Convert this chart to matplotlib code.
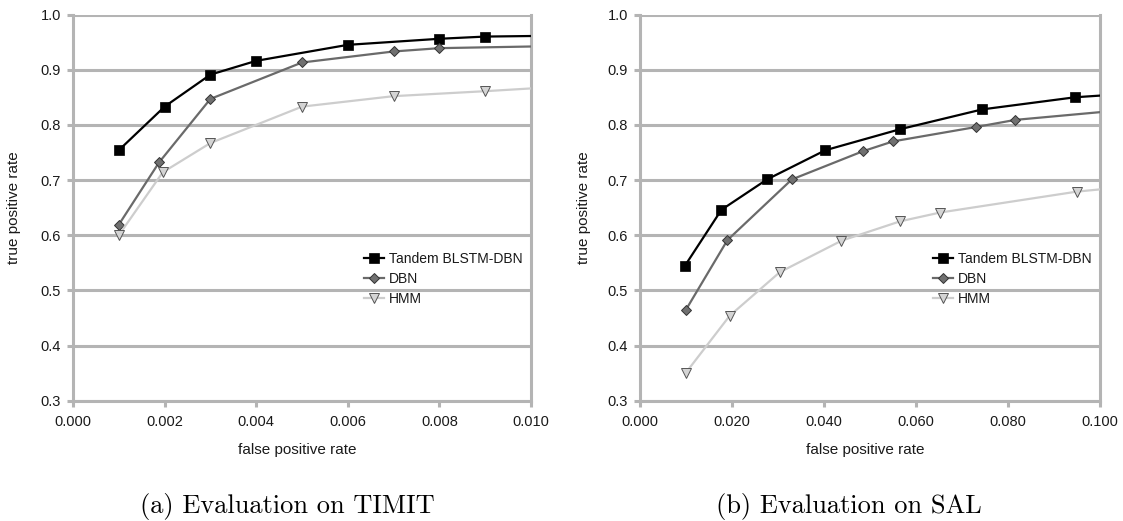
import matplotlib
matplotlib.use("Agg")
import matplotlib.pyplot as plt

# ---------------- data ----------------
series_names = ["Tandem BLSTM-DBN", "DBN", "HMM"]

# (a) TIMIT  (last point of each list = where the curve meets the right edge)
timit_tandem_x = [0.001, 0.002, 0.003, 0.004, 0.006, 0.008, 0.009, 0.010]
timit_tandem_y = [0.754, 0.833, 0.891, 0.916, 0.945, 0.956, 0.960, 0.961]
timit_dbn_x = [0.001, 0.00188, 0.003, 0.005, 0.007, 0.008, 0.010]
timit_dbn_y = [0.619, 0.732, 0.847, 0.913, 0.933, 0.939, 0.942]
timit_hmm_x = [0.001, 0.00196, 0.003, 0.005, 0.007, 0.009, 0.010]
timit_hmm_y = [0.600, 0.714, 0.767, 0.833, 0.852, 0.861, 0.866]

# (b) SAL
sal_tandem_x = [0.0098, 0.0177, 0.0276, 0.0403, 0.0565, 0.0744, 0.0946, 0.100]
sal_tandem_y = [0.545, 0.646, 0.701, 0.754, 0.792, 0.828, 0.850, 0.853]
sal_dbn_x = [0.0100, 0.0190, 0.0330, 0.0484, 0.0550, 0.0730, 0.0816, 0.100]
sal_dbn_y = [0.465, 0.591, 0.701, 0.752, 0.770, 0.796, 0.809, 0.823]
sal_hmm_x = [0.0100, 0.0195, 0.0304, 0.0438, 0.0565, 0.0652, 0.0950, 0.100]
sal_hmm_y = [0.351, 0.454, 0.533, 0.590, 0.625, 0.641, 0.679, 0.683]

timit_xticks = [0.000, 0.002, 0.004, 0.006, 0.008, 0.010]
sal_xticks = [0.000, 0.020, 0.040, 0.060, 0.080, 0.100]
yticks = [0.3, 0.4, 0.5, 0.6, 0.7, 0.8, 0.9, 1.0]

captions = ["(a) Evaluation on TIMIT", "(b) Evaluation on SAL"]
xlabel = "false positive rate"
ylabel = "true positive rate"

# ---------------- style ----------------
plt.rcParams["font.family"] = ["Liberation Sans", "DejaVu Sans"]
GRID = "#b4b4b4"
TXT = "#1a1a1a"
styles = [
    dict(color="#000000", marker="s", markersize=7.0, markerfacecolor="#000000",
         markeredgecolor="#000000", markeredgewidth=0.5, linewidth=1.6),
    dict(color="#6a6a6a", marker="D", markersize=5.0, markerfacecolor="#707070",
         markeredgecolor="#333333", markeredgewidth=0.7, linewidth=1.6),
    dict(color="#cdcdcd", marker="v", markersize=6.8, markerfacecolor="#d4d4d4",
         markeredgecolor="#555555", markeredgewidth=0.7, linewidth=1.6),
]

fig = plt.figure(figsize=(11.23, 5.21), dpi=100)
W, H = 1123, 521
ax1 = fig.add_axes([73 / W, 1 - 400.7 / H, (531 - 73) / W, (400.7 - 14.5) / H])
ax2 = fig.add_axes([640 / W, 1 - 400.7 / H, (1100 - 640) / W, (400.7 - 14.5) / H])

panels = [
    (ax1, [(timit_tandem_x, timit_tandem_y), (timit_dbn_x, timit_dbn_y), (timit_hmm_x, timit_hmm_y)],
     timit_xticks),
    (ax2, [(sal_tandem_x, sal_tandem_y), (sal_dbn_x, sal_dbn_y), (sal_hmm_x, sal_hmm_y)],
     sal_xticks),
]

for ax, data, xt in panels:
    for (xs, ys), st, name in zip(data, styles, series_names):
        ax.plot(xs, ys, label=name, markevery=list(range(len(xs) - 1)),
                clip_on=True, zorder=3, **st)
    ax.set_xlim(xt[0], xt[-1])
    ax.set_ylim(0.3, 1.0)
    ax.set_xticks(xt)
    ax.set_xticklabels(["{:.3f}".format(v) for v in xt])
    ax.set_yticks(yticks)
    ax.set_yticklabels(["{:.1f}".format(v) for v in yticks])
    ax.yaxis.grid(True, color=GRID, linewidth=2.2)
    ax.set_axisbelow(True)
    for side in ["left", "bottom", "right"]:
        ax.spines[side].set_color(GRID)
        ax.spines[side].set_linewidth(2.2)
    ax.spines["top"].set_visible(False)
    ax.tick_params(axis="both", colors=GRID, width=2.2, length=4.5, labelsize=10.5,
                   labelcolor=TXT, direction="out")
    ax.tick_params(axis="x", pad=5.5)
    ax.tick_params(axis="y", pad=4)
    ax.set_xlabel(xlabel, fontsize=11, color=TXT)
    ax.set_ylabel(ylabel, fontsize=11, color=TXT)
    ax.xaxis.set_label_coords(0.49, -0.11)
    leg = ax.legend(loc="upper left", bbox_to_anchor=(0.636, 0.386), frameon=False,
                    fontsize=10, handlelength=1.45, handletextpad=0.35,
                    labelspacing=0.45, borderpad=0, borderaxespad=0)
    for t in leg.get_texts():
        t.set_color(TXT)

ax1.yaxis.set_label_coords(-0.1135, 0.5)
ax2.yaxis.set_label_coords(-0.1065, 0.5)

fig.text(287 / W, 1 - 506 / H, captions[0], family=["cmr10", "DejaVu Serif"],
         fontsize=19, ha="center", va="center")
fig.text(849 / W, 1 - 506 / H, captions[1], family=["cmr10", "DejaVu Serif"],
         fontsize=19, ha="center", va="center")

fig.savefig("out.png", dpi=100, facecolor="white")
